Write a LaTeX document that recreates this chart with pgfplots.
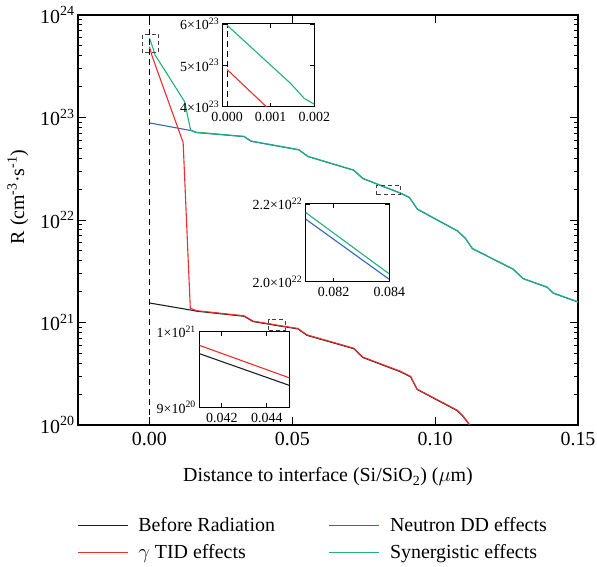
\documentclass[border=0pt]{standalone}
\usepackage{fontspec}
\setmainfont{Liberation Serif}
\usepackage{pgfplots}
\pgfplotsset{compat=1.18}
\usepackage{pgfplotstable}

\definecolor{cblack}{HTML}{231F20}
\definecolor{cred}{HTML}{EE2D2D}
\definecolor{cblue}{HTML}{3465BD}
\definecolor{cgreen}{HTML}{1FB27A}

\pgfplotstableread{
x y
0 1.55e21
0.0146 1.32e21
0.0164 1.29e21
0.0331 1.15e21
0.0363 1.02e21
0.041 9.71e20
0.045 9.29e20
0.052 8.65e20
0.0551 7.50e20
0.0715 5.55e20
0.0747 4.55e20
0.0879 3.30e20
0.0914 2.95e20
0.0937 2.22e20
0.1077 1.38e20
0.1099 1.20e20
0.1116 1.04e20
0.1128 9.0e19
}\tblack

\pgfplotstableread{
x y
0 4.9e23
0.0009 4.0e23
0.0024 3.05e23
0.0118 5.7e22
0.0143 1.38e21
0.0164 1.305e21
0.0331 1.163e21
0.0363 1.031e21
0.041 9.82e20
0.045 9.39e20
0.052 8.74e20
0.0551 7.58e20
0.0715 5.61e20
0.0747 4.60e20
0.0879 3.34e20
0.0914 2.98e20
0.0937 2.24e20
0.1077 1.395e20
0.1099 1.213e20
0.1116 1.05e20
0.1128 9.1e19
}\tred

\pgfplotstableread{
x y
0 8.85e22
0.0146 7.45e22
0.0164 7.12e22
0.0331 6.50e22
0.0356 5.85e22
0.0523 4.82e22
0.0555 4.15e22
0.0715 3.05e22
0.0747 2.53e22
0.081 2.161e22
0.084 2.006e22
0.0879 1.82e22
0.091 1.65e22
0.0938 1.27e22
0.1078 7.8e21
0.1106 6.6e21
0.113 5.25e21
0.1273 3.3e21
0.1308 2.67e21
0.1392 2.2e21
0.1413 1.93e21
0.15 1.58e21
}\tblue

\pgfplotstableread{
x y
0 5.97e23
0.00146 4.56e23
0.00177 4.2e23
0.002 4.06e23
0.0123 1.43e23
0.0144 7.55e22
0.0164 7.18e22
0.0331 6.55e22
0.0356 5.90e22
0.0523 4.86e22
0.0555 4.18e22
0.0715 3.075e22
0.0747 2.55e22
0.081 2.178e22
0.084 2.020e22
0.0879 1.835e22
0.091 1.663e22
0.0938 1.28e22
0.1078 7.86e21
0.1106 6.65e21
0.113 5.29e21
0.1273 3.33e21
0.1308 2.69e21
0.1392 2.22e21
0.1413 1.945e21
0.15 1.593e21
}\tgreen

\newcommand{\bigf}{\fontsize{20}{24}\selectfont}
\newcommand{\smallf}{\fontsize{14}{16}\selectfont}

\pgfplotsset{
  myinset/.style={
    scale only axis, yminorticks=false, xminorticks=false,
    tick align=inside, major tick length=4bp,
    axis line style={line width=1bp}, every tick/.style={black, line width=0.8bp},
    ticklabel style={font=\smallf},
    xticklabel style={yshift=-2bp},
    axis background/.style={fill=white},
    scaled ticks=false,
  },
  curve/.style={line width=1.1bp, no markers},
  mylegline/.style={legend image code/.code={\draw[#1] (0bp,0bp) -- (50bp,0bp);}},
}

\begin{document}
\begin{tikzpicture}
\path[use as bounding box] (-78bp,-142bp) rectangle (519bp,425bp);
\begin{axis}[
  at={(0bp,0bp)}, anchor=south west, scale only axis,
  width=500bp, height=410bp,
  xmin=-0.025, xmax=0.15, ymode=log, ymin=1e20, ymax=1e24,
  xtick={0,0.05,0.1,0.15}, xticklabels={0.00,0.05,0.10,0.15},
  ytick={1e20,1e21,1e22,1e23,1e24},
  yticklabels={10\textsuperscript{20},10\textsuperscript{21},10\textsuperscript{22},10\textsuperscript{23},10\textsuperscript{24}},
  tick align=inside, major tick length=8bp, minor tick length=4bp,
  every tick/.style={black, line width=0.9bp},
  axis line style={line width=1.1bp},
  ticklabel style={font=\bigf},
  xticklabel style={yshift=-4bp},
  label style={font=\bigf},
  xlabel={Distance to interface (Si/SiO\textsubscript{2}) ($\mu$m)},
  ylabel={R (cm\textsuperscript{-3}·s\textsuperscript{-1})},
  xlabel style={at={(axis description cs:0.5,-0.127)}, anchor=center},
  ylabel style={at={(axis description cs:-0.12,0.556)}, anchor=center, rotate=0},
  legend columns=2,
  legend cell align=left,
  legend style={at={(axis description cs:-0.008,-0.215)}, anchor=north west,
    draw=none, fill=none, font=\bigf,
    /tikz/every odd column/.append style={column sep=8bp},
    /tikz/every even column/.append style={column sep=52bp},
    row sep=8bp},
  mylegline,
]
\addplot[curve, cblack] table {\tblack};
\addlegendentry{Before Radiation}
\addplot[curve, cblue] table {\tblue};
\addlegendentry{Neutron DD effects}
\addplot[curve, cred] table {\tred};
\addlegendentry{$\gamma$ TID effects}
\addplot[curve, cgreen] table {\tgreen};
\addlegendentry{Synergistic effects}
\draw[black, line width=0.9bp, dash pattern=on 6bp off 4bp] (axis cs:0,1e20) -- (axis cs:0,1e24);
\draw[black!75, line width=0.9bp, dash pattern=on 4bp off 3bp] (axis cs:-0.0026,4.3e23) rectangle (axis cs:0.0033,6.5e23);
\draw[black!75, line width=0.9bp, dash pattern=on 4bp off 3bp] (axis cs:0.0795,1.76e22) rectangle (axis cs:0.0879,2.19e22);
\draw[black!75, line width=0.9bp, dash pattern=on 4bp off 3bp] (axis cs:0.0418,8.45e20) rectangle (axis cs:0.0475,1.07e21);
\end{axis}

% Inset 1
\begin{axis}[myinset,
  at={(144.7bp,318.3bp)}, anchor=south west, width=91.6bp, height=82.7bp,
  xmin=-0.0001, xmax=0.002, ymin=4e23, ymax=6e23,
  xtick={0,0.001,0.002}, xticklabels={0.000,0.001,0.002},
  ytick={4e23,5e23,6e23},
  yticklabels={4×10\textsuperscript{23},5×10\textsuperscript{23},6×10\textsuperscript{23}},
  restrict x to domain=-0.001:0.0025,
]
\draw[black, line width=0.9bp, dash pattern=on 6bp off 4bp] (axis cs:0,4e23) -- (axis cs:0,6e23);
\addplot[curve, cred] table {\tred};
\addplot[curve, cgreen] table {\tgreen};
\end{axis}

% Inset 2
\begin{axis}[myinset,
  at={(227.7bp,143.3bp)}, anchor=south west, width=83.6bp, height=77.7bp,
  xmin=0.081, xmax=0.084, ymin=2.0e22, ymax=2.2e22,
  xtick={0.082,0.084}, xticklabels={0.082,0.084},
  ytick={2.0e22,2.2e22},
  yticklabels={2.0×10\textsuperscript{22},2.2×10\textsuperscript{22}},
  restrict x to domain=0.0805:0.0845,
]
\addplot[curve, cblue] table {\tblue};
\addplot[curve, cgreen] table {\tgreen};
\end{axis}

% Inset 3
\begin{axis}[myinset,
  at={(121.3bp,17.7bp)}, anchor=south west, width=90bp, height=75.6bp,
  xmin=0.041, xmax=0.045, ymin=9e20, ymax=1e21,
  xtick={0.042,0.044}, xticklabels={0.042,0.044},
  ytick={9e20,1e21},
  yticklabels={9×10\textsuperscript{20},1×10\textsuperscript{21}},
  restrict x to domain=0.0405:0.0455,
]
\addplot[curve, cblack] table {\tblack};
\addplot[curve, cred] table {\tred};
\end{axis}
\end{tikzpicture}
\end{document}
